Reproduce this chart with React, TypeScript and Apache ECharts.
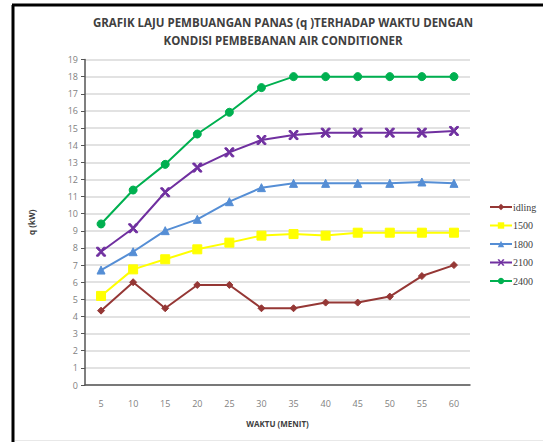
import React, { useEffect, useRef } from "react";
import * as echarts from "echarts";

const categories = ["5", "10", "15", "20", "25", "30", "35", "40", "45", "50", "55", "60"];
const seriesNames = ["idling", "1500", "1800", "2100", "2400"];
const idling = [4.34, 6.0, 4.48, 5.84, 5.84, 4.48, 4.48, 4.81, 4.81, 5.16, 6.36, 7.0];
const s1500 = [5.2, 6.75, 7.34, 7.92, 8.31, 8.72, 8.81, 8.72, 8.89, 8.89, 8.89, 8.89];
const s1800 = [6.71, 7.78, 9.01, 9.67, 10.7, 11.52, 11.77, 11.77, 11.77, 11.77, 11.85, 11.77];
const s2100 = [7.78, 9.15, 11.25, 12.69, 13.58, 14.3, 14.59, 14.73, 14.73, 14.73, 14.73, 14.83];
const s2400 = [9.4, 11.38, 12.88, 14.65, 15.92, 17.36, 18.0, 18.0, 18.0, 18.0, 18.0, 18.0];

const colors = ["#953735", "#FFFF00", "#558ED5", "#7030A0", "#00B050"];
const symbols = [
  "diamond",
  "rect",
  "triangle",
  "path://M0,0L2.2,0L5,3.6L7.8,0L10,0L10,1.2L6.3,5L10,8.8L10,10L7.8,10L5,6.4L2.2,10L0,10L0,8.8L3.7,5L0,1.2Z",
  "circle",
];
const symbolSizes = [7, 9, 8, 9, 8];

export default function App() {
  const ref = useRef<HTMLDivElement>(null);
  useEffect(() => {
    if (!ref.current) return;
    const chart = echarts.init(ref.current, undefined, { renderer: "svg" });
    const data = [idling, s1500, s1800, s2100, s2400];
    chart.setOption({
      animation: false,
      backgroundColor: "#ffffff",
      title: {
        text: "GRAFIK LAJU PEMBUANGAN PANAS (q )TERHADAP WAKTU DENGAN\nKONDISI PEMBEBANAN AIR CONDITIONER",
        left: 278,
        textAlign: "center",
        top: 8,
        textStyle: {
          fontFamily: "Open Sans",
          fontSize: 11.5,
          fontWeight: "bold",
          color: "#404040",
          lineHeight: 18,
        },
      },
      graphic: [
        { type: "line", shape: { x1: 13, y1: 5, x2: 13, y2: 442 }, style: { stroke: "#000", lineWidth: 3 } },
        { type: "line", shape: { x1: 12, y1: 5, x2: 543, y2: 5 }, style: { stroke: "#000", lineWidth: 3 } },
        { type: "line", shape: { x1: 15, y1: 440.5, x2: 543, y2: 440.5 }, style: { stroke: "#e8e8e8", lineWidth: 1 } },
      ],
      legend: {
        orient: "vertical",
        left: 484,
        top: 197,
        itemWidth: 22,
        itemHeight: 8,
        itemGap: 8.5,
        data: seriesNames,
        textStyle: { fontFamily: "Liberation Serif", fontSize: 10, color: "#404040", padding: [0, 0, 0, -4] },
      },
      grid: { left: 85, right: 73, top: 59.5, bottom: 57, containLabel: false },
      xAxis: {
        type: "category",
        data: categories,
        boundaryGap: true,
        name: "WAKTU (MENIT)",
        nameLocation: "middle",
        nameGap: 34,
        nameTextStyle: { fontFamily: "Open Sans", fontSize: 8, fontWeight: "bold", color: "#404040" },
        axisLine: { lineStyle: { color: "#555", width: 1.5 } },
        axisTick: { show: false },
        axisLabel: { fontFamily: "Open Sans", fontSize: 9, color: "#7f7f7f", margin: 14 },
      },
      yAxis: {
        type: "value",
        min: 0,
        max: 19,
        interval: 1,
        name: "q (kW)",
        nameLocation: "middle",
        nameGap: 50,
        nameRotate: 90,
        nameTextStyle: { fontFamily: "Open Sans", fontSize: 8, fontWeight: "bold", color: "#404040" },
        axisLine: { show: true, lineStyle: { color: "#555", width: 1.5 } },
        axisTick: { show: true, inside: false, length: 4, lineStyle: { color: "#555" } },
        axisLabel: { fontFamily: "Open Sans", fontSize: 9, color: "#7f7f7f", margin: 7 },
        splitLine: { lineStyle: { color: "#d9d9d9", width: 1.5 } },
      },
      series: seriesNames.map((n, i) => ({
        name: n,
        type: "line",
        data: data[i],
        symbol: symbols[i],
        symbolSize: symbolSizes[i],
        showSymbol: true,
        lineStyle: { color: colors[i], width: 2 },
        itemStyle: { color: colors[i], borderColor: colors[i] },
      })),
    });
    return () => chart.dispose();
  }, []);
  return (
    <div
      ref={ref}
      style={{ position: "absolute", left: 0, top: 0, width: 543, height: 442 }}
    />
  );
}
